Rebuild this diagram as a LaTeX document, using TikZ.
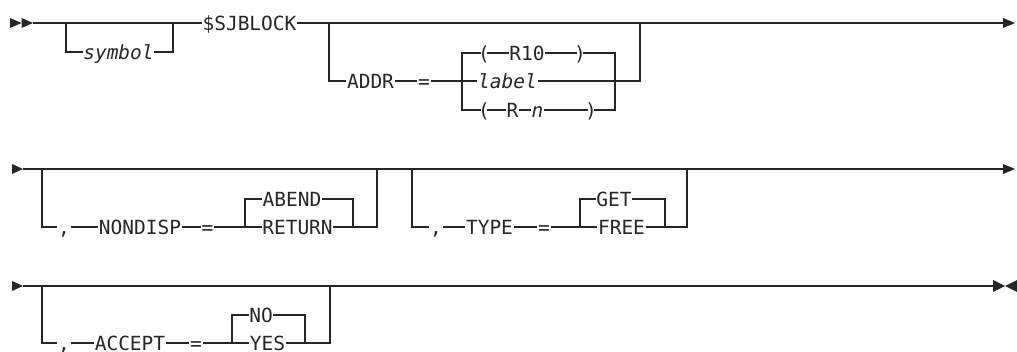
\documentclass[tikz,border=0pt]{standalone}
\usepackage{fontspec}
\setmainfont{DejaVu Sans Mono}
\begin{document}
\begin{tikzpicture}[x=1pt,y=-1pt,
  line/.style={line width=1.1pt, draw=black!85},
  tok/.style={inner xsep=0.5pt, inner ysep=0pt, text height=14.2pt, text depth=0pt,
    font=\fontsize{19.5}{20}\selectfont, text=black!85},
  var/.style={tok, font=\fontsize{19.5}{20}\selectfont\itshape},
  paren/.style={tok, inner xsep=-3pt},
  tipfill/.style={fill=black!85}]
\useasboundingbox (0,0) rectangle (1017,352);

% ---------------- Row 1 ----------------
\fill[tipfill] (10,18) -- (21.5,23) -- (10,28) -- cycle;
\fill[tipfill] (21.5,18) -- (33,23) -- (21.5,28) -- cycle;
\coordinate (s1) at (33,23);
\coordinate (b1l) at (66,23);
\coordinate (b1r) at (173,23);
\node[var] (sym) at (118.5,52) {symbol};
\node[tok] (sj) at (249.5,23) {\$SJBLOCK};
\coordinate (a1l) at (329,23);
\coordinate (a1r) at (640,23);
\node[tok] (addr) at (370.5,81) {ADDR};
\node[tok] (eq1) at (424,81) {=};
\coordinate (c1l) at (462,81);
\coordinate (c1r) at (615,81);
\node[paren] (lp1) at (484,53) {(};
\node[tok] (r10) at (527,53) {R10};
\node[paren] (rp1) at (580,53) {)};
\node[var] (lab) at (507.5,81) {label};
\node[paren] (lp2) at (484,110) {(};
\node[tok] (rr) at (512.5,110) {R};
\node[var] (nn) at (537.5,110) {n};
\node[paren] (rp2) at (591,110) {)};
\coordinate (e1) at (1003,23);
\fill[tipfill] (1003,18) -- (1015,23) -- (1003,28) -- cycle;

\draw[line] (s1) -- (sj.west);
\draw[line] (b1l) |- (sym.west);
\draw[line] (sym.east) -| (b1r);
\draw[line] (sj.east) -- (e1);
\draw[line] (a1l) |- (addr.west);
\draw[line] (addr.east) -- (eq1.west);
\draw[line] (eq1.east) -- (lab.west);
\draw[line] (lab.east) -| (a1r);
\draw[line] (lp1.west) -- (c1l |- lp1) -- (c1l |- lp2) -- (lp2.west);
\draw[line] (rp1.east) -- (c1r |- rp1) -- (c1r |- rp2) -- (rp2.east);
\draw[line] (lp1.east) -- (r10.west);
\draw[line] (r10.east) -- (rp1.west);
\draw[line] (lp2.east) -- (rr.west);
\draw[line] (rr.east) -- (nn.west);
\draw[line] (nn.east) -- (rp2.west);

% ---------------- Row 2 ----------------
\fill[tipfill] (12,164) -- (23,169) -- (12,174) -- cycle;
\coordinate (s2) at (23,169);
\coordinate (b2l) at (42,169);
\coordinate (b2r) at (377,169);
\coordinate (t2l) at (412,169);
\coordinate (t2r) at (687,169);
\coordinate (e2) at (1003,169);
\fill[tipfill] (1003,164) -- (1015,169) -- (1003,174) -- cycle;
\draw[line] (s2) -- (e2);

\node[tok] (cm2) at (64,227) {,};
\node[tok] (nd) at (140,227) {NONDISP};
\node[tok] (eq2) at (207.5,227) {=};
\node[tok] (abend) at (292,199) {ABEND};
\node[tok] (ret) at (297.5,227) {RETURN};
\coordinate (c2l) at (245,227);
\coordinate (c2r) at (353,227);
\draw[line] (b2l) |- (cm2.west);
\draw[line] (cm2.east) -- (nd.west);
\draw[line] (nd.east) -- (eq2.west);
\draw[line] (eq2.east) -- (ret.west);
\draw[line] (ret.east) -| (b2r);
\draw[line] (abend.west) -| (c2l);
\draw[line] (abend.east) -| (c2r);

\node[tok] (cm3) at (436,227) {,};
\node[tok] (type) at (489.5,227) {TYPE};
\node[tok] (eq3) at (544,227) {=};
\node[tok] (get) at (614,199) {GET};
\node[tok] (free) at (621.5,227) {FREE};
\coordinate (c3l) at (580,227);
\coordinate (c3r) at (665,227);
\draw[line] (t2l) |- (cm3.west);
\draw[line] (cm3.east) -- (type.west);
\draw[line] (type.east) -- (eq3.west);
\draw[line] (eq3.east) -- (free.west);
\draw[line] (free.east) -| (t2r);
\draw[line] (get.west) -| (c3l);
\draw[line] (get.east) -| (c3r);

% ---------------- Row 3 ----------------
\fill[tipfill] (12,281) -- (23,286) -- (12,291) -- cycle;
\coordinate (s3) at (23,286);
\coordinate (b3l) at (42,286);
\coordinate (b3r) at (330,286);
\coordinate (e3) at (993,286);
\fill[tipfill] (993,280) -- (1005,286) -- (993,292) -- cycle;
\fill[tipfill] (1017,280) -- (1005,286) -- (1017,292) -- cycle;
\draw[line] (s3) -- (e3);
\coordinate (d1) at (335,285.5);
\coordinate (d2) at (358,285.5);
\draw[line, line width=1.8pt] (d1) -- (d2);

\node[tok] (cm4) at (64,343) {,};
\node[tok] (acc) at (130,343) {ACCEPT};
\node[tok] (eq4) at (196,343) {=};
\node[tok] (no) at (261,315) {NO};
\node[tok] (yes) at (267.5,343) {YES};
\coordinate (c4l) at (232,343);
\coordinate (c4r) at (305,343);
\draw[line] (b3l) |- (cm4.west);
\draw[line] (cm4.east) -- (acc.west);
\draw[line] (acc.east) -- (eq4.west);
\draw[line] (eq4.east) -- (yes.west);
\draw[line] (yes.east) -| (b3r);
\draw[line] (no.west) -| (c4l);
\draw[line] (no.east) -| (c4r);
\end{tikzpicture}
\end{document}
